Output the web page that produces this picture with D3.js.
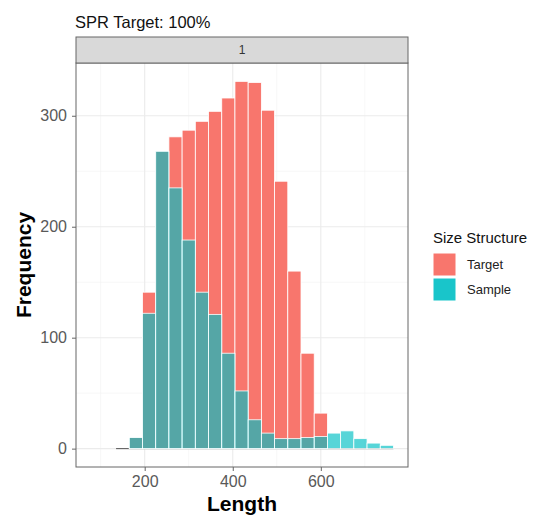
<!DOCTYPE html>
<html lang="en">
  <head>
    <meta charset="utf-8">
    <script src="https://d3js.org/d3.v7.min.js"></script>
    <title>SPR Target</title>
    <style>
      body { margin: 0; background: #fff; }
      text { font-family: "Liberation Sans", Arial, sans-serif; }
    </style>
  </head>
  <body>
    <script>

      // data (bin centres, width 30)
      var lengthBins = [150,180,210,240,270,300,330,360,390,420,450,480,510,540,570,600,630,660,690,720,750];
      var targetFreq = [0,10,141,268,281,287,295,304,316,331,330,305,241,160,86,32,0,0,0,0,0];
      var sampleFreq = [0,10,122,268,235,188,141,121,86,52,26,14,9,9,10,11,14,16,9,5,3];
      var binWidth = 30;
      var xTicks = [200,400,600];
      var yTicks = [0,100,200,300];
      var groups = ["Target","Sample"];
      var groupColors = ["#F8766D","#00BFC4"];

      var width = 541, height = 515;
      var panel = {left: 76, right: 408, top: 63, bottom: 467};

      var svg = d3.select("body").append("svg")
        .attr("width", width).attr("height", height);

      // scales
      var x = d3.scaleLinear().domain([44, 798]).range([panel.left, panel.right]);
      var ymax = d3.max(targetFreq.concat(sampleFreq));
      var y = d3.scaleLinear().domain([-0.05*ymax, 1.05*ymax]).range([panel.bottom, panel.top]);

      // grid
      var grid = svg.append("g");
      var minorX = [100,300,500,700], minorY = [50,150,250];
      grid.selectAll(".mx").data(minorX).enter().append("line")
        .attr("x1", x).attr("x2", x).attr("y1", panel.top).attr("y2", panel.bottom)
        .attr("stroke", "#F2F2F2").attr("stroke-width", 0.6);
      grid.selectAll(".my").data(minorY).enter().append("line")
        .attr("y1", y).attr("y2", y).attr("x1", panel.left).attr("x2", panel.right)
        .attr("stroke", "#F2F2F2").attr("stroke-width", 0.6);
      grid.selectAll(".gx").data(xTicks).enter().append("line")
        .attr("x1", x).attr("x2", x).attr("y1", panel.top).attr("y2", panel.bottom)
        .attr("stroke", "#EBEBEB").attr("stroke-width", 1.1);
      grid.selectAll(".gy").data(yTicks).enter().append("line")
        .attr("y1", y).attr("y2", y).attr("x1", panel.left).attr("x2", panel.right)
        .attr("stroke", "#EBEBEB").attr("stroke-width", 1.1);

      // zero line under the bins
      svg.append("line")
        .attr("x1", x(d3.min(lengthBins) - binWidth/2)).attr("x2", x(d3.max(lengthBins) + binWidth/2))
        .attr("y1", y(0)).attr("y2", y(0))
        .attr("stroke", "#555").attr("stroke-width", 1);

      // bars
      function drawBars(vals, color, op) {
        var data = lengthBins.map(function(b, i){ return {bin: b, v: vals[i]}; })
          .filter(function(d){ return d.v > 0; });
        svg.append("g").selectAll("rect").data(data).enter().append("rect")
          .attr("x", function(d){ return x(d.bin - binWidth/2); })
          .attr("width", function(d){ return x(d.bin + binWidth/2) - x(d.bin - binWidth/2); })
          .attr("y", function(d){ return y(d.v); })
          .attr("height", function(d){ return y(0) - y(d.v); })
          .attr("fill", color).attr("fill-opacity", op)
          .attr("stroke", "#fff").attr("stroke-width", 0.8);
      }
      drawBars(targetFreq, groupColors[0], 1);
      drawBars(sampleFreq, groupColors[1], 0.66);

      // panel border
      svg.append("rect")
        .attr("x", panel.left).attr("y", panel.top)
        .attr("width", panel.right - panel.left).attr("height", panel.bottom - panel.top)
        .attr("fill", "none").attr("stroke", "#666").attr("stroke-width", 1);

      // strip
      svg.append("rect")
        .attr("x", panel.left).attr("y", 37)
        .attr("width", panel.right - panel.left).attr("height", panel.top - 37)
        .attr("fill", "#D9D9D9").attr("stroke", "#666").attr("stroke-width", 1);
      svg.append("text")
        .attr("x", (panel.left + panel.right)/2).attr("y", 54)
        .attr("text-anchor", "middle").style("font-size", "12px").style("fill", "#333")
        .text("1");

      // axes
      var xAxis = d3.axisBottom(x).tickValues(xTicks).tickSize(4).tickPadding(5);
      var gx = svg.append("g").attr("transform", "translate(0," + panel.bottom + ")").call(xAxis);
      var yAxis = d3.axisLeft(y).tickValues(yTicks).tickSize(4).tickPadding(5);
      var gy = svg.append("g").attr("transform", "translate(" + panel.left + ",0)").call(yAxis);
      [gx, gy].forEach(function(g){
        g.select(".domain").remove();
        g.selectAll(".tick line").attr("stroke", "#666");
        g.selectAll(".tick text").style("font-size", "16px").style("fill", "#595959")
          .style("font-family", "Liberation Sans, Arial, sans-serif");
      });

      // titles
      svg.append("text").attr("x", 75).attr("y", 28)
        .style("font-size", "16.5px").style("fill", "#111").text("SPR Target: 100%");
      svg.append("text").attr("x", (panel.left + panel.right)/2).attr("y", 511)
        .attr("text-anchor", "middle").style("font-size", "21px").style("font-weight", "bold")
        .text("Length");
      svg.append("text").attr("transform", "translate(31," + ((panel.top + panel.bottom)/2) + ") rotate(-90)")
        .attr("text-anchor", "middle").style("font-size", "21px").style("font-weight", "bold")
        .text("Frequency");

      // legend
      var lg = svg.append("g").attr("transform", "translate(433,0)");
      lg.append("text").attr("x", 0).attr("y", 243)
        .style("font-size", "15px").style("fill", "#111").text("Size Structure");
      groups.forEach(function(gname, i){
        lg.append("rect").attr("x", 0).attr("y", 253 + i*25).attr("width", 23).attr("height", 23)
          .attr("fill", groupColors[i]).attr("fill-opacity", i == 0 ? 1 : 0.9)
          .attr("stroke", "#fff");
        lg.append("text").attr("x", 34).attr("y", 253 + i*25 + 16)
          .style("font-size", "13px").style("fill", "#222").text(gname);
      });

    </script>
  </body>
</html>
